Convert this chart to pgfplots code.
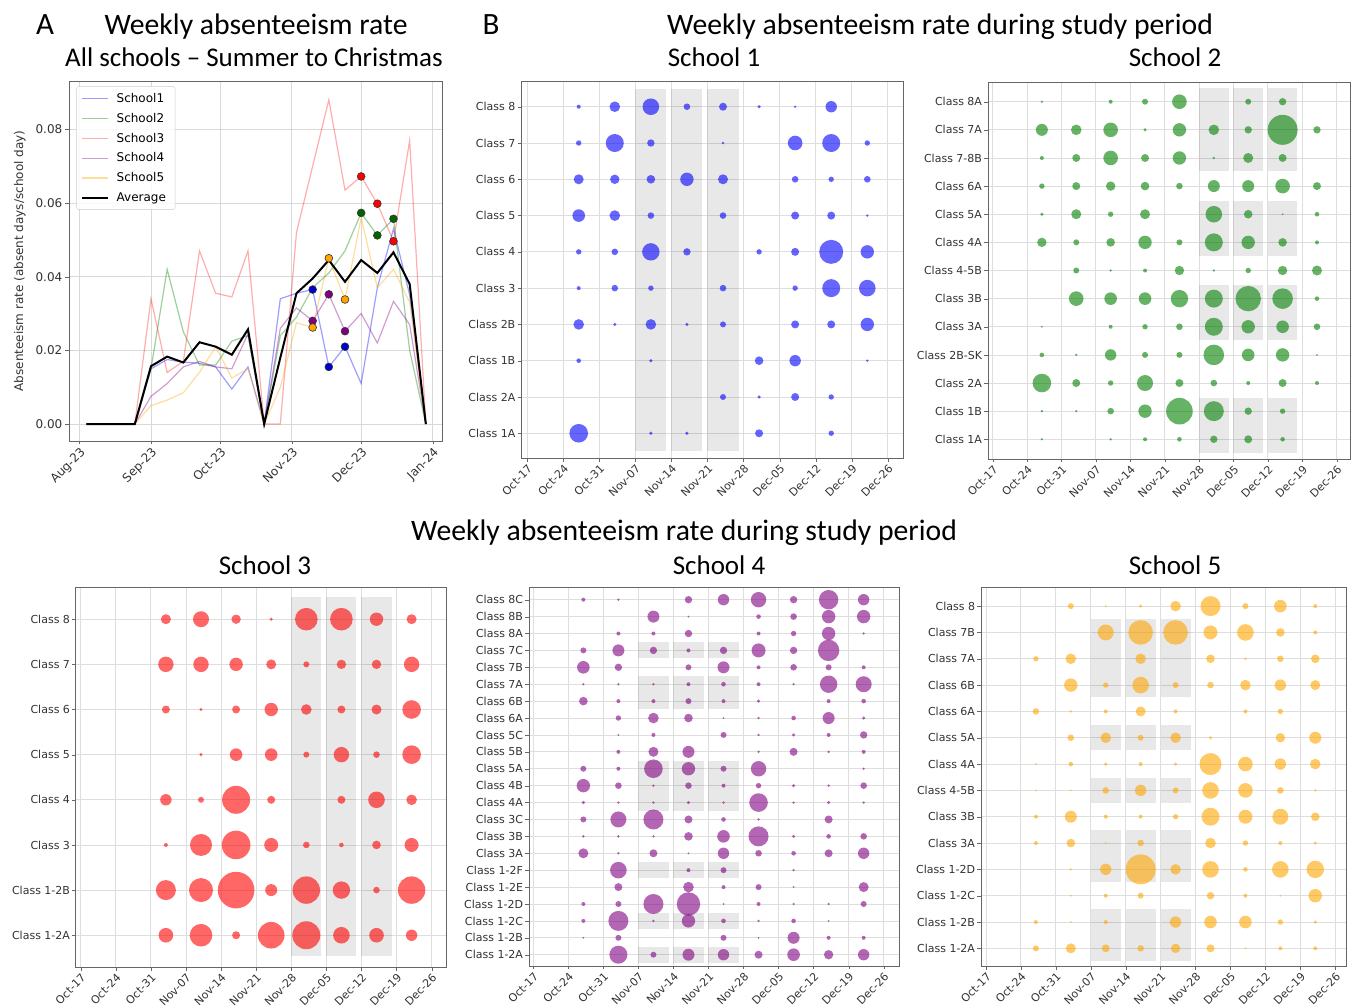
\documentclass[border=0pt]{standalone}
\usepackage{fontspec}
\setmainfont{DejaVu Sans}
\newfontfamily\calib{Carlito}
\usepackage{pgfplots}
\pgfplotsset{compat=1.18}
\definecolor{cA}{RGB}{0,0,255}
\definecolor{cB}{RGB}{0,128,0}
\definecolor{cC}{RGB}{255,0,0}
\definecolor{cD}{RGB}{128,0,128}
\definecolor{cE}{RGB}{255,165,0}
\definecolor{mA}{RGB}{0,0,205}
\definecolor{mB}{RGB}{0,100,0}
\pgfplotsset{
  bubax/.style={
    scale only axis, anchor=south west,
    axis line style={black!60},
    grid=major, grid style={black!13, line width=0.8pt},
    tick align=outside, xtick pos=bottom, ytick pos=left,
    major tick length=3.5pt, tick style={black!60},
    xtick={0,...,10},
    xticklabels={Oct-17,Oct-24,Oct-31,Nov-07,Nov-14,Nov-21,Nov-28,Dec-05,Dec-12,Dec-19,Dec-26},
    xticklabel style={rotate=45, anchor=north east, font=\fontsize{11}{12}\selectfont, text=black!80, inner sep=1.5pt},
    yticklabel style={font=\fontsize{11}{12}\selectfont, text=black!80, inner sep=2pt},
  },
  bub/.style={scatter, only marks, mark=*,
    visualization depends on={\thisrow{r}\as\rr},
    scatter/@pre marker code/.code={\scope[mark size=\rr, fill=#1, draw=#1, draw opacity=0, line width=0pt, fill opacity=0.6]},
    scatter/@post marker code/.code={\endscope}},
}
\newcommand\shd[4]{\fill[black, fill opacity=0.09] (axis cs:#1,#3) rectangle (axis cs:#2,#4);}
\begin{document}
\begin{tikzpicture}
\path[use as bounding box] (0pt,0pt) rectangle (1355pt,1007pt);
% ---------------- titles
\node[font=\calib\fontsize{31}{34}\selectfont, anchor=base] at (45pt,972.7pt) {A};
\node[font=\calib\fontsize{29.7}{32}\selectfont, anchor=base] at (256pt,972.7pt) {Weekly absenteeism rate};
\node[font=\calib\fontsize{27}{30}\selectfont, anchor=base] at (254pt,940.3pt) {All schools – Summer to Christmas};
\node[font=\calib\fontsize{31}{34}\selectfont, anchor=base] at (491pt,972.7pt) {B};
\node[font=\calib\fontsize{29.7}{32}\selectfont, anchor=base] at (940pt,972.7pt) {Weekly absenteeism rate during study period};
\node[font=\calib\fontsize{27}{30}\selectfont, anchor=base] at (714pt,940.3pt) {School 1};
\node[font=\calib\fontsize{27}{30}\selectfont, anchor=base] at (1175pt,940.3pt) {School 2};
\node[font=\calib\fontsize{29.7}{32}\selectfont, anchor=base] at (684pt,466pt) {Weekly absenteeism rate during study period};
\node[font=\calib\fontsize{27}{30}\selectfont, anchor=base] at (265pt,432pt) {School 3};
\node[font=\calib\fontsize{27}{30}\selectfont, anchor=base] at (719pt,432pt) {School 4};
\node[font=\calib\fontsize{27}{30}\selectfont, anchor=base] at (1175pt,432pt) {School 5};
% ---------------- Panel A
\begin{axis}[scale only axis, anchor=south west, at={(69pt,566pt)}, width=373pt, height=360pt,
  xmin=-4.5, xmax=157, ymin=-0.0046, ymax=0.0931,
  scaled y ticks=false, scaled x ticks=false,
  axis line style={black!60},
  grid=major, grid style={black!15, line width=0.8pt},
  tick align=outside, xtick pos=bottom, ytick pos=left,
  major tick length=3.5pt, tick style={black!60},
  xtick={0,31,61,92,122,153}, xticklabels={Aug-23,Sep-23,Oct-23,Nov-23,Dec-23,Jan-24},
  ytick={0,0.02,0.04,0.06,0.08}, yticklabels={0.00,0.02,0.04,0.06,0.08},
  xticklabel style={rotate=45, anchor=north east, font=\fontsize{12}{13}\selectfont, text=black!80, inner sep=1.5pt},
  yticklabel style={font=\fontsize{12}{13}\selectfont, text=black!80, inner sep=3pt},
  ylabel={Absenteeism rate (absent days/school day)},
  ylabel style={at={(axis description cs:-0.132,0.5)}, anchor=center, font=\fontsize{12}{13}\selectfont, text=black!80},
  legend style={at={(0.02,0.985)}, anchor=north west, font=\fontsize{12}{13}\selectfont, draw=black!20, rounded corners=2pt, fill=white, fill opacity=0.85, text opacity=1, row sep=5.3pt, inner xsep=4pt, inner ysep=4.5pt, cells={anchor=west}, /tikz/every odd column/.append style={column sep=6pt}},
  legend image code/.code={\draw[#1] (0pt,0pt) -- (26pt,0pt);},
]
\addplot[cA, opacity=0.38, line width=1.2pt] coordinates {(3,0)(10,0)(17,0)(24,0)(31,.015)(38,.0175)(45,.0168)(52,.0165)(59,.0155)(66,.0095)(73,.0155)(80,0)(87,.034)(94,.0355)(101,.0365)(108,.0155)(115,.021)(122,.011)(129,.037)(136,.053)(143,.035)(150,0)};
\addlegendentry{School1\hspace*{5pt}}
\addplot[cB, opacity=0.38, line width=1.2pt] coordinates {(3,0)(10,0)(17,0)(24,0)(31,.015)(38,.042)(45,.025)(52,.016)(59,.016)(66,.0225)(73,.024)(80,0)(87,.024)(94,.029)(101,.037)(108,.041)(115,.047)(122,.0573)(129,.0512)(136,.0557)(143,.020)(150,0)};
\addlegendentry{School2}
\addplot[cC, opacity=0.32, line width=1.2pt] coordinates {(3,0)(10,0)(17,0)(24,0)(31,.034)(38,.014)(45,.017)(52,.047)(59,.0355)(66,.0345)(73,.047)(80,0)(87,0)(94,.052)(101,.070)(108,.088)(115,.0635)(122,.0672)(129,.0598)(136,.0496)(143,.077)(150,0)};
\addlegendentry{School3}
\addplot[cD, opacity=0.38, line width=1.2pt] coordinates {(3,0)(10,0)(17,0)(24,0)(31,.0075)(38,.011)(45,.0155)(52,.017)(59,.0155)(66,.015)(73,.0245)(80,0)(87,.026)(94,.0315)(101,.028)(108,.0352)(115,.0252)(122,.030)(129,.022)(136,.0333)(143,.027)(150,0)};
\addlegendentry{School4}
\addplot[cE, opacity=0.38, line width=1.2pt] coordinates {(3,0)(10,0)(17,0)(24,0)(31,.005)(38,.0065)(45,.0085)(52,.014)(59,.021)(66,.0125)(73,.015)(80,0)(87,.010)(94,.0275)(101,.0262)(108,.045)(115,.0338)(122,.056)(129,.037)(136,.042)(143,.033)(150,0)};
\addlegendentry{School5}
\addplot[black, line width=2pt] coordinates {(3,0)(10,0)(17,0)(24,0)(31,.0157)(38,.0183)(45,.0167)(52,.0222)(59,.021)(66,.0188)(73,.0257)(80,0)(87,.018)(94,.0355)(101,.0395)(108,.0445)(115,.0386)(122,.0445)(129,.041)(136,.0466)(143,.038)(150,0)};
\addlegendentry{Average}
\addplot[forget plot, only marks, mark=*, mark size=3.9pt, mark options={draw=black!80, fill=mA, line width=0.6pt}] coordinates {(101,.0365)(108,.0155)(115,.021)};
\addplot[forget plot, only marks, mark=*, mark size=3.9pt, mark options={draw=black!80, fill=cD, line width=0.6pt}] coordinates {(101,.028)(108,.0352)(115,.0252)};
\addplot[forget plot, only marks, mark=*, mark size=3.9pt, mark options={draw=black!80, fill=cE, line width=0.6pt}] coordinates {(101,.0262)(108,.045)(115,.0338)};
\addplot[forget plot, only marks, mark=*, mark size=3.9pt, mark options={draw=black!80, fill=mB, line width=0.6pt}] coordinates {(122,.0573)(129,.0512)(136,.0557)};
\addplot[forget plot, only marks, mark=*, mark size=3.9pt, mark options={draw=black!80, fill=cC, line width=0.6pt}] coordinates {(122,.0672)(129,.0598)(136,.0496)};
\end{axis}
% ---------------- School 1
\begin{axis}[bubax, at={(521pt,548.7pt)}, width=382pt, height=376.6pt,
  xmin=-0.17, xmax=10.42, ymin=-0.69, ymax=9.69,
  ytick={0,...,9}, yticklabels={Class 1A,Class 2A,Class 1B,Class 2B,Class 3,Class 4,Class 5,Class 6,Class 7,Class 8}]
\shd{3}{3.86}{-0.48}{9.48}
\shd{4}{4.86}{-0.48}{9.48}
\shd{5}{5.86}{-0.48}{9.48}
\addplot[bub=cA] table[x expr=\thisrow{c}+0.43, y=y] {
c y r
1 9 2
2 9 5.3
3 9 8.3
4 9 3.3
5 9 4
6 9 1.7
7 9 1.3
8 9 5.7
1 8 2.7
2 8 9
3 8 3.7
5 8 1.3
7 8 7.3
8 8 9
9 8 2.7
1 7 5
2 7 4.7
3 7 4.3
4 7 6.7
5 7 5
7 7 3.3
8 7 2.7
9 7 3.3
1 6 6.3
2 6 5.3
3 6 3.3
5 6 3.3
7 6 4
8 6 4
9 6 1.3
1 5 2.7
2 5 3.3
3 5 8.7
4 5 3.7
6 5 2.7
7 5 4
8 5 12
9 5 6.7
1 4 2
2 4 3.3
3 4 2.7
5 4 3.3
7 4 2.7
8 4 9
9 4 8.3
1 3 5.3
2 3 1.7
3 3 5.3
4 3 1.7
5 3 3
7 3 4
8 3 4
9 3 6.7
1 2 2.3
3 2 1.7
6 2 4.3
7 2 5.7
9 2 1.3
5 1 3
6 1 1.7
7 1 4
8 1 2.7
1 0 9.3
3 0 1.7
4 0 1.7
6 0 4
8 0 2.7
};
\end{axis}
% ---------------- School 2
\begin{axis}[bubax, at={(987.7pt,548pt)}, width=362.3pt, height=376.7pt,
  xmin=-0.145, xmax=10.39, ymin=-0.70, ymax=12.69,
  ytick={0,...,12}, yticklabels={Class 1A,Class 1B,Class 2A,Class 2B-SK,Class 3A,Class 3B,Class 4-5B,Class 4A,Class 5A,Class 6A,Class 7-8B,Class 7A,Class 8A}]
\shd{6}{6.86}{9.53}{12.5}
\shd{7}{7.86}{9.53}{12.5}
\shd{8}{8.86}{9.53}{12.5}
\shd{6}{6.86}{6.53}{8.48}
\shd{7}{7.86}{6.53}{8.48}
\shd{8}{8.86}{6.53}{8.48}
\shd{6}{6.86}{3.53}{5.48}
\shd{7}{7.86}{3.53}{5.48}
\shd{8}{8.86}{3.53}{5.48}
\shd{6}{6.86}{-0.5}{1.48}
\shd{7}{7.86}{-0.5}{1.48}
\shd{8}{8.86}{-0.5}{1.48}
\addplot[bub=cB] table[x expr=\thisrow{c}+0.43, y=y] {
c y r
1 12 1.3
3 12 2
4 12 3
5 12 7.3
7 12 3
8 12 3.7
1 11 6
2 11 5.3
3 11 7.3
4 11 1.7
5 11 6.7
6 11 5.3
7 11 3.7
8 11 15
9 11 3.7
1 10 2
2 10 4
3 10 7.3
4 10 4
5 10 6.7
6 10 1.3
7 10 5
8 10 4
1 9 2.7
2 9 4
3 9 4.7
4 9 4.3
5 9 3.3
6 9 6
7 9 6
8 9 7.3
9 9 4
1 8 1.7
2 8 5
3 8 2.7
4 8 5
6 8 8.3
7 8 4.3
8 8 1
9 8 2.3
1 7 4.7
2 7 3
3 7 4.3
4 7 6.7
5 7 3
6 7 9
7 7 6.7
8 7 4.3
9 7 2
2 6 3
3 6 1.3
4 6 2
5 6 4.7
6 6 1.3
7 6 2.7
8 6 4.7
9 6 5
2 5 7.3
3 5 6.3
4 5 6.3
5 5 8.7
6 5 9
7 5 12.7
8 5 10.3
9 5 2.3
1 4 1
3 4 2
4 4 2.7
5 4 3.3
6 4 9
7 4 6.7
8 4 6.3
9 4 3.3
1 3 2.3
2 3 1.3
3 3 5.7
4 3 3
5 3 3
6 3 10.3
7 3 6.3
8 3 6.7
9 3 1
1 2 9.3
2 2 4
3 2 2.7
4 2 8
5 2 4
6 2 3.3
7 2 2
8 2 4
9 2 2
1 1 1.3
2 1 1.3
3 1 3.3
4 1 6.7
5 1 13.3
6 1 10
7 1 3.7
8 1 2.7
1 0 1.3
3 0 1.3
4 0 2
5 0 2.3
6 0 3.7
7 0 4
8 0 2.3
};
\end{axis}
% ---------------- School 3
\begin{axis}[bubax, at={(75.7pt,39.7pt)}, width=370.3pt, height=380.6pt,
  xmin=-0.14, xmax=10.41, ymin=-0.71, ymax=7.72,
  ytick={0,...,7}, yticklabels={Class 1-2A,Class 1-2B,Class 3,Class 4,Class 5,Class 6,Class 7,Class 8}]
\shd{6}{6.86}{-0.47}{7.5}
\shd{7}{7.86}{-0.47}{7.5}
\shd{8}{8.86}{-0.47}{7.5}
\addplot[bub=cC] table[x expr=\thisrow{c}+0.43, y=y] {
c y r
2 7 5
3 7 8
4 7 4.7
5 7 1.7
6 7 11.3
7 7 11.3
8 7 6.7
9 7 5
2 6 7.7
3 6 7.7
4 6 6.7
5 6 5
6 6 3
7 6 4.7
8 6 4.7
9 6 7.7
2 5 4
3 5 1.7
4 5 4
5 5 6.7
6 5 5.3
7 5 4
8 5 5
9 5 9.3
3 4 1.7
4 4 6.3
5 4 6.3
6 4 3
7 4 7.7
8 4 3.3
9 4 9.3
2 3 5.7
3 3 3
4 3 14
5 3 4
7 3 4
8 3 8.3
9 3 5.3
2 2 2
3 2 11
4 2 14.3
5 2 7
6 2 3.3
7 2 2.3
8 2 4.3
9 2 7
2 1 10
3 1 12
4 1 18.3
5 1 6
6 1 13.7
7 1 8.7
8 1 3.3
9 1 13.7
2 0 7.3
3 0 11.3
4 0 4
5 0 13.3
6 0 14
7 0 8.3
8 0 7.3
9 0 5.7
};
\end{axis}
% ---------------- School 4
\begin{axis}[bubax, at={(528.7pt,41.3pt)}, width=370pt, height=378pt,
  xmin=-0.13, xmax=10.43, ymin=-0.65, ymax=21.71,
  ytick={0,...,21}, yticklabels={Class 1-2A,Class 1-2B,Class 1-2C,Class 1-2D,Class 1-2E,Class 1-2F,Class 3A,Class 3B,Class 3C,Class 4A,Class 4B,Class 5A,Class 5B,Class 5C,Class 6A,Class 6B,Class 7A,Class 7B,Class 7C,Class 8A,Class 8B,Class 8C}]
\shd{3}{3.86}{17.53}{18.47}
\shd{4}{4.86}{17.53}{18.47}
\shd{5}{5.86}{17.53}{18.47}
\shd{3}{3.86}{14.53}{16.47}
\shd{4}{4.86}{14.53}{16.47}
\shd{5}{5.86}{14.53}{16.47}
\shd{3}{3.86}{8.53}{11.47}
\shd{4}{4.86}{8.53}{11.47}
\shd{5}{5.86}{8.53}{11.47}
\shd{3}{3.86}{4.53}{5.47}
\shd{4}{4.86}{4.53}{5.47}
\shd{5}{5.86}{4.53}{5.47}
\shd{3}{3.86}{1.53}{2.47}
\shd{4}{4.86}{1.53}{2.47}
\shd{5}{5.86}{1.53}{2.47}
\shd{3}{3.86}{-0.47}{0.47}
\shd{4}{4.86}{-0.47}{0.47}
\shd{5}{5.86}{-0.47}{0.47}
\addplot[bub=cD] table[x expr=\thisrow{c}+0.43, y=y] {
c y r
1 21 2
2 21 1.3
4 21 3.7
5 21 5.7
6 21 7.7
7 21 3.7
8 21 9.7
9 21 5.7
3 20 6
4 20 1
6 20 2.3
7 20 3.3
8 20 6.7
9 20 6.7
2 19 2
3 19 2
4 19 3.7
6 19 2
7 19 2.7
8 19 6.7
9 19 1.3
1 18 3
2 18 6
3 18 3.7
4 18 2
5 18 3.7
6 18 7
7 18 3.7
8 18 10.7
1 17 6.3
2 17 3.7
4 17 3
5 17 6
6 17 2
7 17 3.3
8 17 3
9 17 2
1 16 1.3
2 16 1.3
3 16 1.3
4 16 2
5 16 2.3
6 16 2
7 16 1.3
8 16 8.7
9 16 8
1 15 4.3
2 15 2
3 15 2
4 15 3
5 15 2
6 15 1.7
8 15 2
9 15 2.3
2 14 2.7
3 14 5.3
4 14 4.3
5 14 1
6 14 1.3
7 14 2.3
8 14 6
9 14 1.7
2 13 1
3 13 2
5 13 3
6 13 1.3
7 13 1.7
8 13 2
9 13 3.7
2 12 2
3 12 5
4 12 6
6 12 1.3
7 12 4
8 12 1.3
9 12 2
1 11 3
2 11 2
3 11 9.3
4 11 6.7
5 11 3
6 11 7.7
9 11 1.3
1 10 6.7
2 10 3.3
3 10 1.3
4 10 3.3
5 10 2
6 10 2.7
7 10 1.7
8 10 1.3
9 10 3.3
1 9 1.7
2 9 1.3
3 9 1.3
4 9 1.7
5 9 1.3
6 9 9.3
7 9 1.3
8 9 1.7
9 9 1.3
1 8 3
2 8 8
3 8 10
4 8 4
5 8 2.3
6 8 1.3
8 8 4
1 7 1.3
2 7 1.3
3 7 1.3
4 7 4.3
5 7 6.3
6 7 10
7 7 1.7
8 7 2.3
9 7 3.3
1 6 5
2 6 1.3
3 6 4
4 6 1
5 6 5.7
6 6 3.3
7 6 2.3
8 6 4
9 6 5.7
2 5 8.3
4 5 2
5 5 3
7 5 1.3
2 4 4
4 4 5.3
5 4 2
6 4 3
7 4 1
9 4 5
1 3 2
2 3 3
3 3 10
4 3 11.7
5 3 1
6 3 2
7 3 1.3
8 3 1.3
9 3 3
1 2 2
2 2 10
3 2 1.3
4 2 6.7
5 2 2.3
6 2 1.3
7 2 2.3
8 2 1
1 1 1
2 1 3
5 1 3
6 1 1
7 1 6
8 1 2
9 1 2
2 0 9
3 0 3
4 0 6
5 0 5.7
6 0 4
7 0 6.3
8 0 4.7
9 0 5.7
};
\end{axis}
% ---------------- School 5
\begin{axis}[bubax, at={(980.7pt,41pt)}, width=365.3pt, height=378.3pt,
  xmin=-0.15, xmax=10.31, ymin=-0.67, ymax=13.7,
  ytick={0,...,13}, yticklabels={Class 1-2A,Class 1-2B,Class 1-2C,Class 1-2D,Class 3A,Class 3B,Class 4-5B,Class 4A,Class 5A,Class 6A,Class 6B,Class 7A,Class 7B,Class 8}]
\shd{3}{3.86}{9.53}{12.52}
\shd{4}{4.86}{9.53}{12.52}
\shd{5}{5.86}{9.53}{12.52}
\shd{3}{3.86}{7.53}{8.48}
\shd{4}{4.86}{7.53}{8.48}
\shd{5}{5.86}{7.53}{8.48}
\shd{3}{3.86}{5.53}{6.48}
\shd{4}{4.86}{5.53}{6.48}
\shd{5}{5.86}{5.53}{6.48}
\shd{3}{3.86}{2.53}{4.48}
\shd{4}{4.86}{2.53}{4.48}
\shd{5}{5.86}{2.53}{4.48}
\shd{3}{3.86}{-0.47}{1.48}
\shd{4}{4.86}{-0.47}{1.48}
\shd{5}{5.86}{-0.47}{1.48}
\addplot[bub=cE] table[x expr=\thisrow{c}+0.43, y=y] {
c y r
2 13 3
3 13 1
4 13 1.7
5 13 5.3
6 13 10
7 13 3
8 13 6.3
9 13 2
3 12 8
4 12 12.3
5 12 12.3
6 12 7
7 12 8.3
8 12 4.3
9 12 2
1 11 2.7
2 11 5.3
4 11 5.3
6 11 4.3
7 11 1.3
8 11 3.3
9 11 4.3
2 10 6.7
3 10 2.7
4 10 8.3
5 10 3
6 10 3.3
7 10 5.3
8 10 5.7
9 10 5
1 9 3.3
2 9 1.3
3 9 2
4 9 5
5 9 2
7 9 2
8 9 2.7
2 8 3.3
3 8 5.3
4 8 3
5 8 5.3
6 8 1.7
8 8 4.7
9 8 6
1 7 1
2 7 2.3
3 7 1.7
4 7 2
5 7 1.7
6 7 11
7 7 7.3
8 7 5.7
9 7 5.3
1 6 1
2 6 1
3 6 3.3
4 6 5.7
5 6 3
6 6 8.3
7 6 7.3
8 6 3.3
9 6 1.3
1 5 2
2 5 6
3 5 2
4 5 2
5 5 2.7
6 5 9
7 5 7
8 5 8
9 5 4.3
1 4 2
2 4 4.3
3 4 1
4 4 3.3
6 4 5.3
7 4 2.7
8 4 2
9 4 1.7
2 3 1.3
3 3 5.7
4 3 15
5 3 5.3
6 3 8.3
7 3 2.3
8 3 8.3
9 3 8.7
2 2 1
3 2 2
4 2 3
6 2 3.7
7 2 2
8 2 1
9 2 6.7
1 1 2
2 1 1
3 1 2
5 1 5.7
6 1 6.3
7 1 6.3
8 1 2.7
9 1 1.7
1 0 3
2 0 5
3 0 4
4 0 3.3
5 0 4.7
6 0 4
7 0 1
8 0 2
9 0 2
};
\end{axis}
\end{tikzpicture}
\end{document}
